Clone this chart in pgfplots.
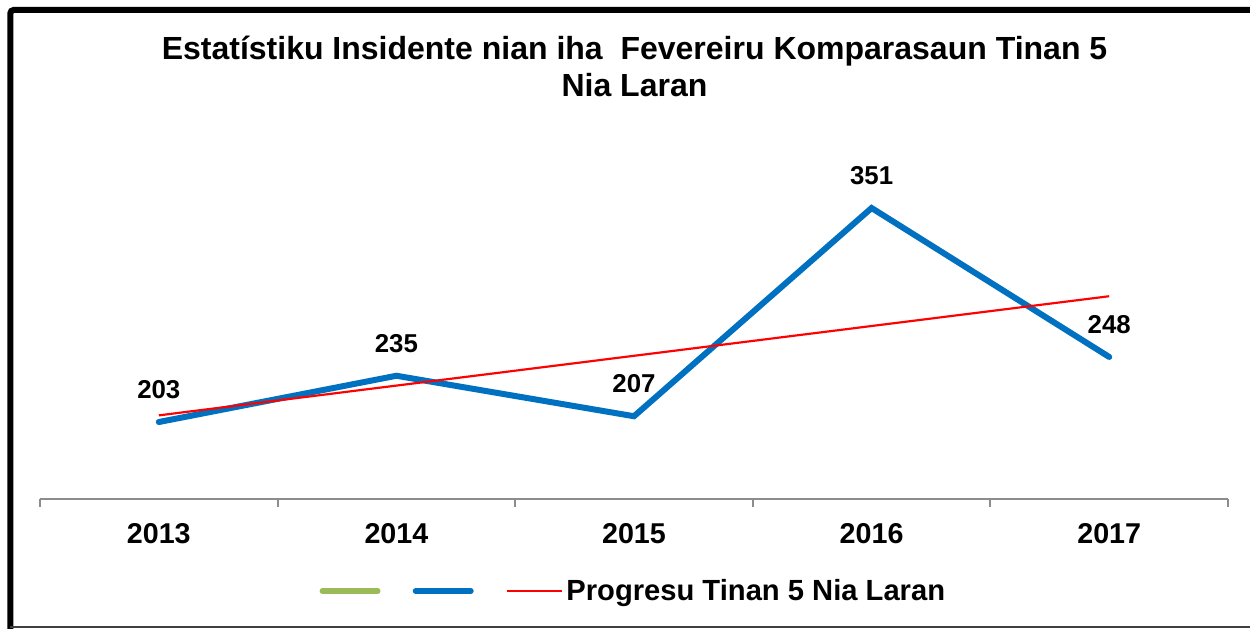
\documentclass[border=0pt]{standalone}
\usepackage{fontspec}
\setmainfont{Liberation Sans}
\usepackage{pgfplots}
\pgfplotsset{compat=1.18}
\definecolor{cblue}{HTML}{0070C0}
\definecolor{cgreen}{HTML}{9BBB59}
\definecolor{axgray}{HTML}{8C8C8C}
\begin{document}
\begin{tikzpicture}
\useasboundingbox (0,0) rectangle (750pt,377.4pt);
\draw[line width=3.6pt, rounded corners=2pt] (6.2pt,-2pt) -- (6.2pt,371.4pt) -- (752pt,371.4pt);
\draw[line width=0.7pt, black!75] (6.2pt,1.2pt) -- (750pt,1.2pt);
\node[anchor=base, font=\fontsize{19.2}{22}\selectfont\bfseries] at (380.7pt,341.8pt) {Estatístiku Insidente nian iha~ Fevereiru Komparasaun Tinan 5};
\node[anchor=base, font=\fontsize{19.2}{22}\selectfont\bfseries] at (380.7pt,319.6pt) {Nia Laran};
\begin{axis}[
  at={(24pt,78.2pt)}, anchor=south west,
  scale only axis, width=712.8pt, height=216.9pt,
  xmin=-0.5, xmax=4.5, ymin=150, ymax=400,
  axis x line=bottom, axis y line=none,
  axis line style={-, draw=axgray, line width=1.1pt},
  xtick={0,1,2,3,4}, xticklabels={2013,2014,2015,2016,2017},
  major tick length=0pt,
  minor xtick={-0.5,0.5,1.5,2.5,3.5,4.5},
  minor tick length=5pt, tick align=outside,
  minor tick style={draw=axgray, line width=1.1pt},
  xticklabel style={font=\fontsize{17.2}{20}\selectfont\bfseries, anchor=base, yshift=-27.2pt},
  /pgf/number format/assume math mode=true,
  legend columns=3,
  legend style={at={(0.5,0)}, anchor=center, yshift=-55.4pt, draw=none, fill=none,
    font=\fontsize{17.5}{20}\selectfont\bfseries,
    /tikz/every even column/.append style={column sep=15.3pt}},
  legend image code/.code={\draw[#1] (0pt,0pt) -- (33pt,0pt);},
  clip=false,
]
\addlegendimage{cgreen, line width=3.6pt, line cap=round}
\addlegendentry{}
\addplot[cblue, line width=3.6pt, line cap=round, line join=miter,
  nodes near coords,
  every node near coord/.style={anchor=base, yshift=14.2pt, black, font=\fontsize{15.5}{18}\selectfont\bfseries}]
  coordinates {(0,203) (1,235) (2,207) (3,351) (4,248)};
\addlegendentry{}
\addplot[red, line width=1.3pt] coordinates {(0,207.6) (4,290)};
\addlegendentry{Progresu Tinan 5 Nia Laran}
\end{axis}
\end{tikzpicture}
\end{document}
